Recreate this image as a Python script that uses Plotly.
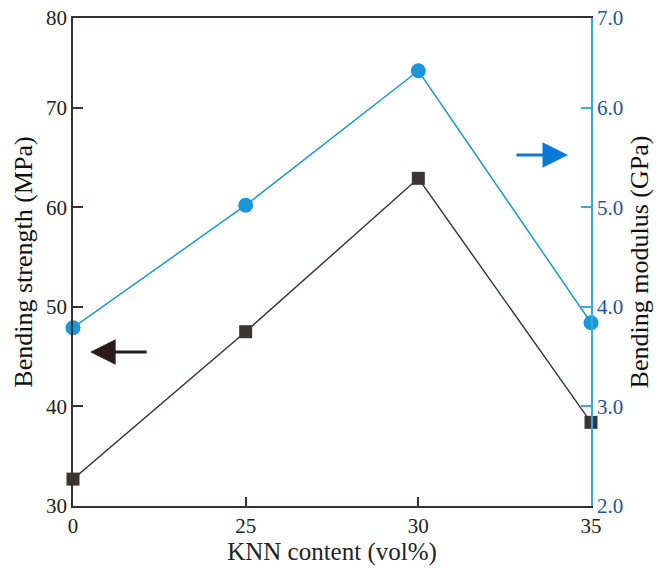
import plotly.graph_objects as go

categories = ["0", "25", "30", "35"]
strength = [32.7, 47.5, 62.9, 38.4]        # MPa, left axis
modulus = [3.79, 5.02, 6.37, 3.84]         # GPa, right axis
left_ticks = [30, 40, 50, 60, 70, 79.0]
left_ticktext = ["30", "40", "50", "60", "70", "80"]
right_ticks = [2.0, 3.0, 4.0, 5.0, 6.0, 6.90]
right_ticktext = ["2.0", "3.0", "4.0", "5.0", "6.0", "7.0"]

FONT = "Liberation Serif"
DARK = "#3a3033"
BLUE = "#1b98da"

fig = go.Figure()
fig.add_trace(go.Scatter(
    x=categories, y=strength, mode="lines+markers", yaxis="y",
    line=dict(color=DARK, width=1.4),
    marker=dict(symbol="square", size=13, color="#3b3536"),
    cliponaxis=False, showlegend=False))
fig.add_trace(go.Scatter(
    x=categories, y=modulus, mode="lines+markers", yaxis="y2",
    line=dict(color=BLUE, width=1.5),
    marker=dict(symbol="circle", size=15, color=BLUE),
    cliponaxis=False, showlegend=False))

fig.update_layout(
    width=660, height=568,
    margin=dict(l=73, r=69, t=18, b=62, autoexpand=False),
    paper_bgcolor="white", plot_bgcolor="white",
    font=dict(family=FONT, size=21, color="#222"),
    xaxis=dict(
        type="category", range=[0, 3], automargin=False,
        showline=True, linecolor=DARK, linewidth=1.5, mirror=True,
        ticks="inside", ticklen=9, tickcolor=DARK, tickwidth=1.5,
        showgrid=False, zeroline=False,
        tickfont=dict(family=FONT, size=21, color="#222"),
        title=dict(text="KNN content (vol%)", standoff=4,
                   font=dict(family=FONT, size=25, color="#222")),
    ),
    yaxis=dict(
        range=[30, 79.0], tickvals=left_ticks, ticktext=left_ticktext,
        automargin=False,
        showline=True, linecolor=DARK, linewidth=1.5,
        ticks="inside", ticklen=10, tickcolor=DARK, tickwidth=1.5,
        showgrid=False, zeroline=False,
        tickfont=dict(family=FONT, size=21, color="#222"),
        title=dict(text="Bending strength (MPa)", standoff=6,
                   font=dict(family=FONT, size=26, color="#111")),
    ),
    yaxis2=dict(
        range=[2.0, 6.90], tickvals=right_ticks, ticktext=right_ticktext,
        overlaying="y", side="right", automargin=False,
        showline=True, linecolor="#3aa8e0", linewidth=1.5,
        ticks="inside", ticklen=10, tickcolor="#3aa8e0", tickwidth=1.5,
        showgrid=False, zeroline=False,
        tickfont=dict(family=FONT, size=21, color="#1a55a8"),
        title=dict(text="Bending modulus (GPa)", standoff=8,
                   font=dict(family=FONT, size=26, color="#111")),
    ),
    annotations=[
        dict(xref="paper", yref="paper", x=0.033, y=0.3156, text="",
             showarrow=True, ax=58, ay=0, arrowhead=2, arrowsize=1.7,
             arrowwidth=3, arrowcolor="#2a1c1e"),
        dict(xref="paper", yref="paper", x=0.9556, y=0.7193, text="",
             showarrow=True, ax=-53, ay=0, arrowhead=2, arrowsize=1.7,
             arrowwidth=3, arrowcolor="#0b78d8"),
    ],
)

fig.write_html("out.html")
